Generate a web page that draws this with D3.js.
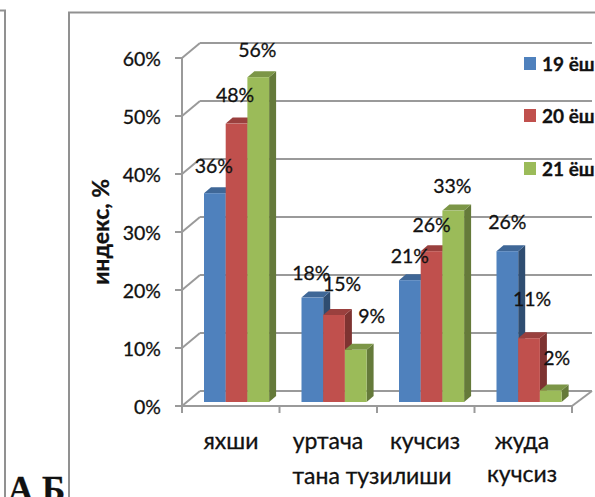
<!DOCTYPE html>
<html><head><meta charset="utf-8">
<script src="https://cdn.jsdelivr.net/npm/d3@7/dist/d3.min.js"></script>
<style>html,body{margin:0;padding:0;background:#fff;overflow:hidden}svg{display:block}text{font-family:"Lato","Noto Sans",sans-serif;fill:#111;stroke:#111;stroke-width:.3}</style>
</head><body><svg id="c" width="595" height="497"></svg>
<script>
const categories=[["яхши"],["уртача"],["кучсиз"],["жуда","кучсиз"]];
const seriesNames=["19 ёш","20 ёш","21 ёш"];
const s19=[36,18,21,26];
const s20=[48,15,26,11];
const s21=[56,9,33,2];
const yTicks=[0,10,20,30,40,50,60];
const front=["#4F81BD","#C0504D","#9BBB59"];
const topC=["#3F6797","#9A403E","#7C9647"];
const sideC=["#2F4D71","#7E3331","#657A3A"];

const svg=d3.select("#c");
const y=d3.scaleLinear().domain([0,60]).range([406,58]);
const x0=d3.scaleBand().domain(d3.range(4)).range([182,572]);
const series=[s19,s20,s21];
const G="#9a9a9a";
const line=(a,b,c,d,w=2,col=G)=>svg.append("line").attr("x1",a).attr("y1",b).attr("x2",c).attr("y2",d).attr("stroke",col).attr("stroke-width",w);
svg.append("path").attr("d","M0,10.5H5V497").attr("fill","none").attr("stroke","#919191").attr("stroke-width",2);
svg.append("path").attr("d","M69,497V12.5H595").attr("fill","none").attr("stroke","#919191").attr("stroke-width",2);
const dx=18,dy=-15;
yTicks.forEach(t=>{
  const v=y(t);
  line(182,v,182+dx,v+dy);
  line(182+dx,v+dy,592,v+dy);
  line(175,v,182,v);
  svg.append("text").attr("x",161).attr("y",v+8).attr("text-anchor","end").attr("font-size",19.5).text(t+"%");
});
line(182,y(0),182,y(60));
line(182,y(0),572,y(0));
line(572,y(0),592,y(0)+dy);
x0.domain().concat([4]).forEach(i=>{const p=i<4?x0(i):572;line(p,y(0),p,413);});
const bw=21.7,bd=7,bh=6,by=-4,gap=22;
categories.forEach((c,i)=>{
  const bx=x0(i)+gap;
  series.forEach((s,k)=>{
    const l=bx+k*bw,r=l+bw,t=y(s[i])+by,b=y(0)+by;
    svg.append("path").attr("d",`M${r},${t}l${bd},${-bh}V${b-bh}l${-bd},${bh}Z`).attr("fill",sideC[k]);
    svg.append("path").attr("d",`M${l},${t}l${bd},${-bh}H${r+bd}l${-bd},${bh}Z`).attr("fill",topC[k]);
    svg.append("rect").attr("x",l).attr("y",t).attr("width",bw).attr("height",b-t).attr("fill",front[k]);
  });
});
const labelDx=[[-1,-1.5,-1],[-1,8,16],[0,0,-1],[0,3,6]];
const labelDy=[[-20,-21.6,-20],[-17.6,-24,-27],[-17,-19,-17.6],[-22,-32,-25]];
categories.forEach((c,i)=>{
  const bx=x0(i)+gap;
  series.forEach((s,k)=>{
    svg.append("text").attr("x",bx+k*bw+bw/2+labelDx[i][k]).attr("y",y(s[i])+by+labelDy[i][k]).attr("text-anchor","middle").attr("font-size",19.5).text(s[i]+"%");
  });
});
const catX=[231,328,425,522];
const catY=[449,482];
categories.forEach((c,i)=>{
  c.forEach((t,j)=>svg.append("text").attr("x",catX[i]).attr("y",catY[j]).attr("text-anchor","middle").attr("font-size",23).text(t));
});
svg.append("text").attr("x",372).attr("y",484).attr("text-anchor","middle").attr("font-size",23).text("тана тузилиши");
svg.append("text").attr("transform","translate(109,232) rotate(-90)").attr("text-anchor","middle").attr("font-size",23).attr("font-weight",700).text("индекс, %");
const legY=[57,109,162];
seriesNames.forEach((n,k)=>{
  svg.append("rect").attr("x",524).attr("y",legY[k]).attr("width",12).attr("height",13).attr("fill",front[k]);
  svg.append("text").attr("x",542).attr("y",legY[k]+14).attr("font-size",19).attr("font-weight",700).text(n);
});
svg.append("text").attr("x",8).attr("y",501).attr("font-size",35).attr("font-weight",700).style("font-family","Liberation Serif").text("А Б");
</script></body></html>
